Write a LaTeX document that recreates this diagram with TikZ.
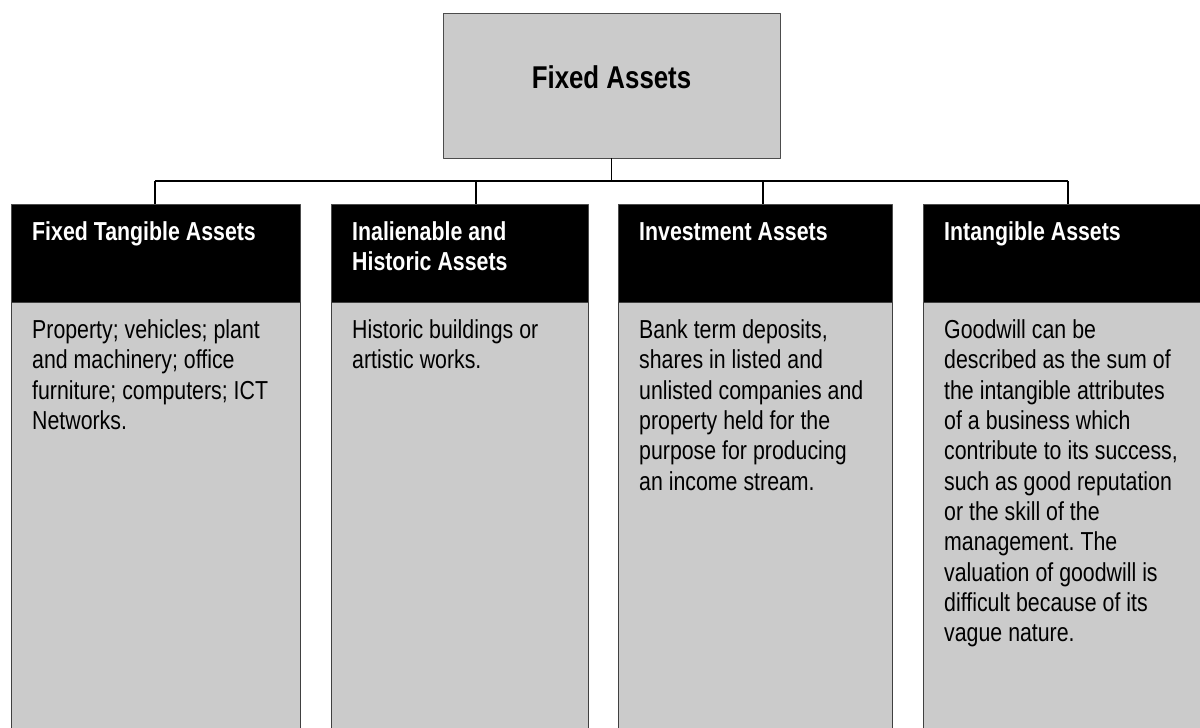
\documentclass[tikz,border=0pt]{standalone}
\usepackage{fontspec}
\setmainfont{Liberation Sans}[FakeStretch=0.82]
\usetikzlibrary{positioning}
\definecolor{panelgray}{RGB}{203,203,203}
\frenchspacing

\begin{document}
\begin{tikzpicture}[x=1pt, y=-1pt, line join=bevel,
	wire/.style={draw=black, line width=1.2pt},
	tight/.style={execute at begin node={\spaceskip=0.23em\relax\xspaceskip=0.23em\relax}},
	head/.style={draw=black!70, fill=black, text=white, align=left, anchor=north west, tight,
		font=\fontsize{26}{30.3}\selectfont\bfseries,
		inner xsep=21pt, inner ysep=17pt, text height=19pt, text depth=45pt},
	body/.style={draw=black!75, fill=panelgray, align=left, tight,
		font=\fontsize{26}{30.3}\selectfont,
		inner xsep=21pt, inner ysep=17pt, text height=19pt, text depth=397pt}]
	\useasboundingbox (0,0) rectangle (1200,728);
	%
	\node[draw=black!70, fill=panelgray, minimum width=337pt, minimum height=145pt, tight,
		font=\fontsize{31.5}{36}\selectfont\bfseries, text depth=16pt] (fa) at (611.5,85.5) {Fixed Assets};
	%
	\node[head, text width=247pt] (h1) at (11,204) {Fixed Tangible Assets};
	\node[head, text width=215pt] (h2) at (331,204) {Inalienable and\\Historic Assets};
	\node[head, text width=232pt] (h3) at (618,204) {Investment Assets};
	\node[head, text width=248pt] (h4) at (923,204) {Intangible Assets};
	%
	\node[body, text width=247pt, below=0pt of h1] (b1) {Property; vehicles; plant\\and machinery; office\\furniture; computers; ICT\\Networks.};
	\node[body, text width=215pt, below=0pt of h2] (b2) {Historic buildings or\\artistic works.};
	\node[body, text width=232pt, below=0pt of h3] (b3) {Bank term deposits,\\shares in listed and\\unlisted companies and\\property held for the\\purpose for producing\\an income stream.};
	\node[body, text width=248pt, below=0pt of h4] (b4) {Goodwill can be\\described as the sum of\\the intangible attributes\\of a business which\\contribute to its success,\\such as good reputation\\or the skill of the\\management. The\\valuation of goodwill is\\difficult because of its\\vague nature.};
	%
	\coordinate (j1) at (155,181);
	\coordinate (j2) at (476,181);
	\coordinate (j3) at (763,181);
	\coordinate (j4) at (1068,181);
	%
	\draw[wire] (fa.south) -- (fa.south |- j1);
	\draw[wire] (j1) -- (j4);
	\draw[wire] (j1) -- (j1 |- h1.north);
	\draw[wire] (j2) -- (j2 |- h2.north);
	\draw[wire] (j3) -- (j3 |- h3.north);
	\draw[wire] (j4) -- (j4 |- h4.north);
\end{tikzpicture}
\end{document}
